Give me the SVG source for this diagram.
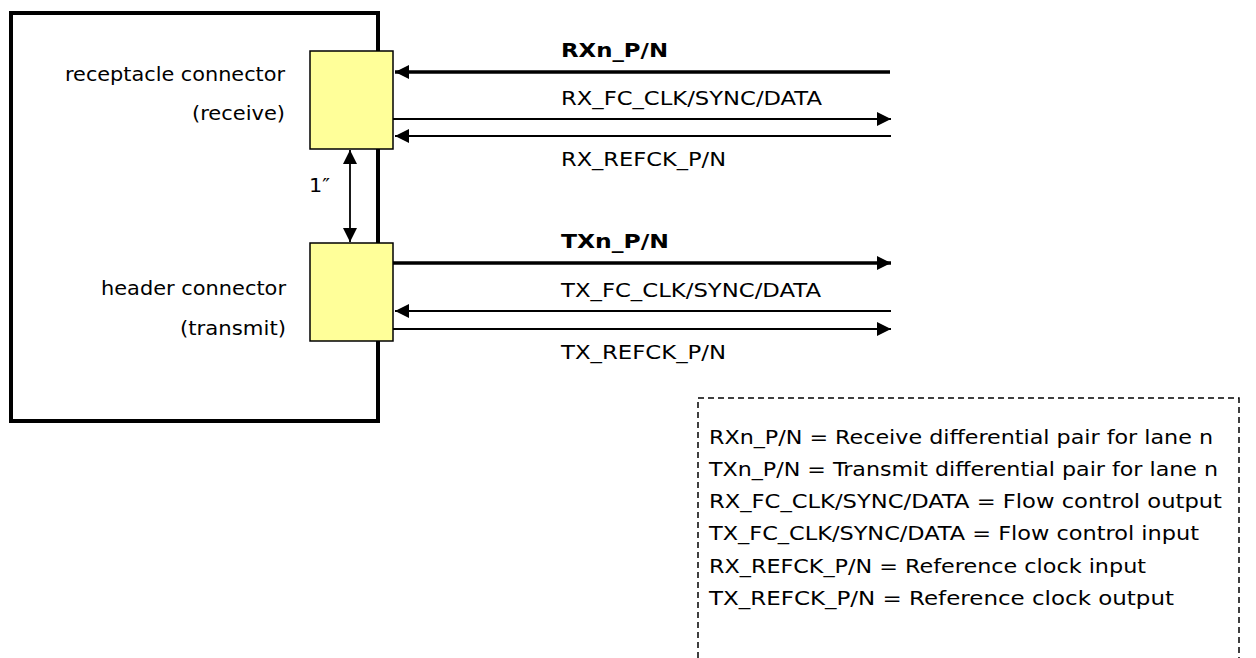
<svg xmlns="http://www.w3.org/2000/svg" width="1256" height="658" viewBox="0 0 1256 658">
<style>
text{font-family:"DejaVu Sans","Liberation Sans",sans-serif;font-size:20px;fill:#000}
.b{font-weight:bold}
.r{text-anchor:end}
.thick{stroke:#000;stroke-width:3.5;fill:none}
.thin{stroke:#000;stroke-width:1.8;fill:none}
.conn{fill:#FFFF99;stroke:#000;stroke-width:1.5}
</style>
<defs>
<marker id="ah" viewBox="0 0 10 10" refX="10" refY="5" markerWidth="15" markerHeight="14" markerUnits="userSpaceOnUse" orient="auto-start-reverse">
<path d="M0,0 L10,5 L0,10 Z" fill="#000"/>
</marker>
</defs>
<g id="board">
<rect x="11" y="13" width="367" height="408" fill="#fff" stroke="#000" stroke-width="4"/>
</g>
<g id="receptacle">
<rect class="conn" x="310" y="51" width="83" height="98"/>
<text class="r" x="285" y="81" textLength="220" lengthAdjust="spacingAndGlyphs">receptacle connector</text>
<text class="r" x="285" y="120" textLength="93" lengthAdjust="spacingAndGlyphs">(receive)</text>
</g>
<g id="header">
<rect class="conn" x="310" y="243" width="83" height="98"/>
<text class="r" x="286" y="295" textLength="185" lengthAdjust="spacingAndGlyphs">header connector</text>
<text class="r" x="286" y="335" textLength="106" lengthAdjust="spacingAndGlyphs">(transmit)</text>
</g>
<g id="connectors">
<line class="thin" x1="350" y1="150" x2="350" y2="242" marker-start="url(#ah)" marker-end="url(#ah)"/>
<text x="309" y="192" textLength="21" lengthAdjust="spacingAndGlyphs">1″</text>
<line class="thick" x1="890" y1="72" x2="395" y2="72" marker-end="url(#ah)"/>
<text class="b" x="561" y="57" textLength="107" lengthAdjust="spacingAndGlyphs">RXn_P/N</text>
<line class="thin" x1="393" y1="119" x2="891" y2="119" marker-end="url(#ah)"/>
<text x="561" y="105" textLength="261" lengthAdjust="spacingAndGlyphs">RX_FC_CLK/SYNC/DATA</text>
<line class="thin" x1="891" y1="136" x2="395" y2="136" marker-end="url(#ah)"/>
<text x="561" y="166" textLength="165" lengthAdjust="spacingAndGlyphs">RX_REFCK_P/N</text>
<line class="thick" x1="393" y1="263" x2="891" y2="263" marker-end="url(#ah)"/>
<text class="b" x="561" y="248" textLength="108" lengthAdjust="spacingAndGlyphs">TXn_P/N</text>
<line class="thin" x1="891" y1="311" x2="395" y2="311" marker-end="url(#ah)"/>
<text x="561" y="297" textLength="260" lengthAdjust="spacingAndGlyphs">TX_FC_CLK/SYNC/DATA</text>
<line class="thin" x1="393" y1="329" x2="891" y2="329" marker-end="url(#ah)"/>
<text x="561" y="359" textLength="165" lengthAdjust="spacingAndGlyphs">TX_REFCK_P/N</text>
</g>
<g id="legend">
<path d="M698,658 V398 H1239 V658" fill="none" stroke="#000" stroke-width="1.5" stroke-dasharray="6,4"/>
<text x="709" y="444" textLength="504" lengthAdjust="spacingAndGlyphs">RXn_P/N = Receive differential pair for lane n</text>
<text x="709" y="476" textLength="509" lengthAdjust="spacingAndGlyphs">TXn_P/N = Transmit differential pair for lane n</text>
<text x="709" y="508" textLength="513" lengthAdjust="spacingAndGlyphs">RX_FC_CLK/SYNC/DATA = Flow control output</text>
<text x="709" y="540" textLength="490" lengthAdjust="spacingAndGlyphs">TX_FC_CLK/SYNC/DATA = Flow control input</text>
<text x="709" y="573" textLength="437" lengthAdjust="spacingAndGlyphs">RX_REFCK_P/N = Reference clock input</text>
<text x="709" y="605" textLength="465" lengthAdjust="spacingAndGlyphs">TX_REFCK_P/N = Reference clock output</text>
</g>
</svg>
